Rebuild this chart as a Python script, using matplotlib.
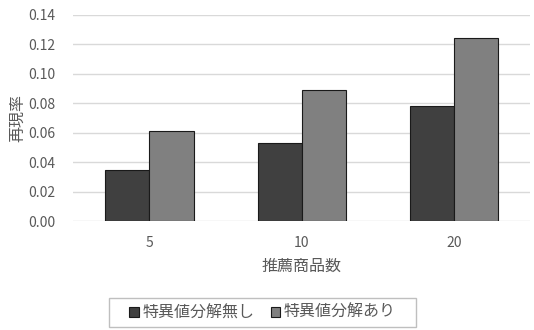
import matplotlib.pyplot as plt
from matplotlib.patches import Rectangle
import numpy as np

plt.rcParams['font.family'] = ['Noto Sans CJK JP', 'DejaVu Sans']

categories = ['5', '10', '20']
series_names = ['特異値分解無し', '特異値分解あり']
no_svd = [0.035, 0.053, 0.078]
with_svd = [0.061, 0.089, 0.124]
yticks = [0.00, 0.02, 0.04, 0.06, 0.08, 0.10, 0.12, 0.14]

txt = '#595959'
x = np.arange(len(categories))
w = 0.29

fig = plt.figure(figsize=(5.34, 3.30), dpi=100)
ax = fig.add_axes([0.137, 0.330, 0.856, 0.625])

ax.bar(x - w / 2, no_svd, w, color='#404040', edgecolor='#1a1a1a', linewidth=0.8,
       label=series_names[0], zorder=3)
ax.bar(x + w / 2, with_svd, w, color='#808080', edgecolor='#1a1a1a', linewidth=0.8,
       label=series_names[1], zorder=3)

ax.set_xlim(-0.5, len(categories) - 0.5)
ax.set_ylim(0, 0.14)
ax.set_yticks(yticks)
ax.set_yticklabels(['%.2f' % v for v in yticks])
ax.set_xticks(x)
ax.set_xticklabels(categories)
ax.yaxis.grid(True, color='#d9d9d9', linewidth=1.0, zorder=0)
ax.set_axisbelow(True)
for s in ax.spines.values():
    s.set_visible(False)
ax.tick_params(axis='both', length=0, colors=txt, labelsize=10)
ax.tick_params(axis='y', pad=13)
ax.tick_params(axis='x', pad=11)

ax.set_ylabel('再現率', color=txt, fontsize=11.5, labelpad=1)
ax.set_xlabel('推薦商品数', color=txt, fontsize=11.5, labelpad=5)

leg = fig.legend(loc='center', bbox_to_anchor=(0.4916, 0.052), ncol=2,
                 frameon=False, fontsize=11.5, handlelength=0.62,
                 handleheight=0.62, handletextpad=0.2, columnspacing=1.0,
                 borderpad=0)
for t in leg.get_texts():
    t.set_color(txt)

# legend box with wider side padding than the vertical one
fig.canvas.draw()
bb = leg.get_window_extent().transformed(fig.transFigure.inverted())
px, py = 20 / 534, 6 / 330
fig.patches.append(Rectangle((bb.x0 - px, bb.y0 - py), bb.width + 2 * px,
                             bb.height + 2 * py, transform=fig.transFigure,
                             fill=False, edgecolor='#bfbfbf', linewidth=1.0))

fig.savefig('out.png', dpi=100)
